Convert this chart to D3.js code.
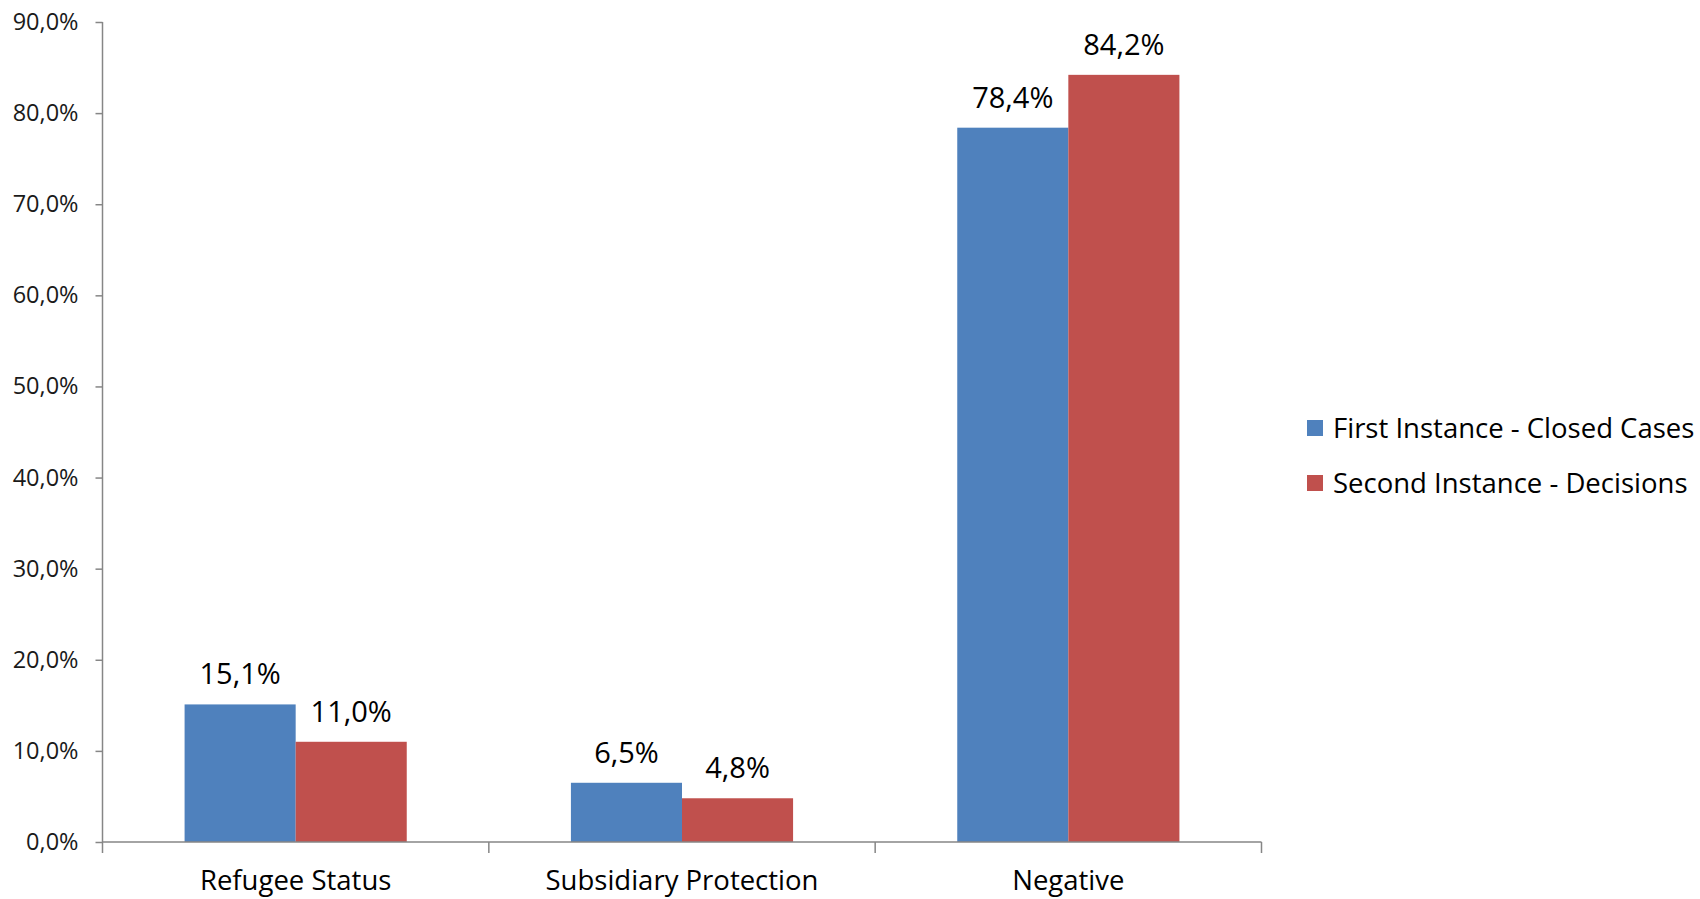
<!DOCTYPE html>
<html>
<head>
<meta charset="utf-8">
<script src="https://cdn.jsdelivr.net/npm/d3@7"></script>
<style>
  html, body { margin: 0; padding: 0; background: #fff; }
  svg { display: block; font-family: "Open Sans", "Noto Sans", sans-serif; }
</style>
</head>
<body>
<svg id="chart" width="1700" height="899"></svg>
<script>
// Outcome shares by category, first vs second instance
const categories = ["Refugee Status", "Subsidiary Protection", "Negative"];
const seriesNames = ["First Instance - Closed Cases", "Second Instance - Decisions"];
const firstInstance = [15.1, 6.5, 78.4];
const secondInstance = [11.0, 4.8, 84.2];
const yTicks = [0, 10, 20, 30, 40, 50, 60, 70, 80, 90];
const colors = ["#4F81BD", "#C0504D"];

const seriesValues = [firstInstance, secondInstance];
const fmt = v => v.toFixed(1).replace(".", ",") + "%";

const svg = d3.select("#chart");
const plotLeft = 102.5, plotRight = 1261.5, plotTop = 22, plotBottom = 842;

const y = d3.scaleLinear().domain([0, 90]).range([plotBottom, plotTop]);
const x0 = d3.scaleBand().domain(categories).range([plotLeft, plotRight]).paddingInner(0).paddingOuter(0);
const x1 = d3.scaleBand().domain(seriesNames).range([0, x0.bandwidth()]).paddingInner(0).paddingOuter(0.739);

const axisColor = "#868686";

// Y axis
const yAxis = svg.append("g")
  .attr("transform", `translate(${plotLeft},0)`)
  .call(d3.axisLeft(y).tickValues(yTicks).tickSize(7).tickPadding(17)
    .tickFormat(d => d.toFixed(1).replace(".", ",") + "%"));
yAxis.select(".domain").attr("stroke", axisColor).attr("stroke-width", 1.5)
  .attr("d", `M0,${plotTop}V${plotBottom + 11}`);
yAxis.selectAll(".tick line").attr("stroke", axisColor).attr("stroke-width", 1.5);
yAxis.selectAll(".tick text").attr("font-size", 23.5).attr("fill", "#1a1a1a")
  .attr("font-family", "'Open Sans', 'Noto Sans', sans-serif");

// Bars
const groups = svg.append("g").selectAll("g")
  .data(categories)
  .join("g")
  .attr("transform", d => `translate(${x0(d)},0)`);

groups.selectAll("rect")
  .data((c, i) => seriesNames.map((s, j) => ({ s, v: seriesValues[j][i], j })))
  .join("rect")
  .attr("x", d => x1(d.s))
  .attr("width", x1.bandwidth())
  .attr("y", d => y(d.v))
  .attr("height", d => y(0) - y(d.v))
  .attr("fill", d => colors[d.j]);

groups.selectAll("text.val")
  .data((c, i) => seriesNames.map((s, j) => ({ s, v: seriesValues[j][i], j })))
  .join("text")
  .attr("class", "val")
  .attr("x", d => x1(d.s) + x1.bandwidth() / 2)
  .attr("y", d => y(d.v) - 20)
  .attr("text-anchor", "middle")
  .attr("font-size", 29)
  .attr("fill", "#000")
  .text(d => fmt(d.v));

// X axis
const xAxis = svg.append("g");
xAxis.append("line")
  .attr("x1", plotLeft).attr("x2", plotRight)
  .attr("y1", plotBottom).attr("y2", plotBottom)
  .attr("stroke", axisColor).attr("stroke-width", 1.5);
const boundaries = categories.map(c => x0(c) + x0.bandwidth());
xAxis.selectAll("line.tick")
  .data(boundaries)
  .join("line")
  .attr("class", "tick")
  .attr("x1", d => d).attr("x2", d => d)
  .attr("y1", plotBottom).attr("y2", plotBottom + 11)
  .attr("stroke", axisColor).attr("stroke-width", 1.5);
xAxis.selectAll("text")
  .data(categories)
  .join("text")
  .attr("x", d => x0(d) + x0.bandwidth() / 2)
  .attr("y", 890)
  .attr("text-anchor", "middle")
  .attr("font-size", 27.5)
  .attr("fill", "#000")
  .text(d => d);

// Legend
const legend = svg.append("g").attr("transform", "translate(1307,0)");
const legendY = [428, 483];
seriesNames.forEach((name, i) => {
  legend.append("rect")
    .attr("x", 0).attr("y", legendY[i] - 8)
    .attr("width", 16).attr("height", 16)
    .attr("fill", colors[i]);
  legend.append("text")
    .attr("x", 26).attr("y", legendY[i])
    .attr("dy", "0.35em")
    .attr("font-size", 27.5)
    .attr("fill", "#000")
    .text(name);
});
</script>
</body>
</html>
